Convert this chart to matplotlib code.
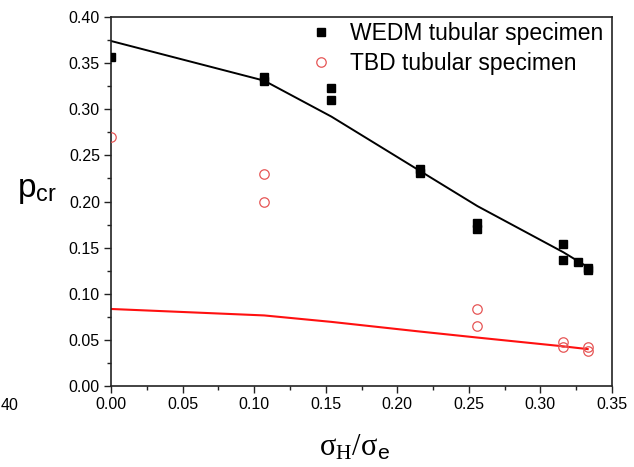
import matplotlib
matplotlib.use("Agg")
import matplotlib.pyplot as plt
from matplotlib.ticker import MultipleLocator

plt.rcParams['font.family'] = ['Liberation Sans', 'DejaVu Sans']
plt.rcParams['mathtext.fontset'] = 'custom'
plt.rcParams['mathtext.rm'] = 'Liberation Serif'
plt.rcParams['mathtext.it'] = 'Liberation Serif:italic'
plt.rcParams['mathtext.sf'] = 'Liberation Sans'

# Experimental critical pressure, WEDM tubular specimens
wedm_x = [0.0, 0.107, 0.107, 0.154, 0.154, 0.216, 0.216, 0.256, 0.256,
          0.316, 0.316, 0.326, 0.333, 0.333]
wedm_y = [0.357, 0.331, 0.335, 0.323, 0.310, 0.231, 0.235, 0.170, 0.177,
          0.154, 0.137, 0.134, 0.126, 0.128]

# Experimental critical pressure, TBD tubular specimens
tbd_x = [0.0, 0.107, 0.107, 0.256, 0.256, 0.316, 0.316, 0.333, 0.333]
tbd_y = [0.270, 0.230, 0.200, 0.083, 0.0655, 0.048, 0.0425, 0.042, 0.038]

# Predicted curves
fit_x = [0.0, 0.107, 0.154, 0.216, 0.256, 0.316, 0.333]
wedm_fit = [0.374, 0.331, 0.292, 0.233, 0.195, 0.145, 0.129]
tbd_fit = [0.0835, 0.0765, 0.0695, 0.059, 0.0525, 0.043, 0.040]

fig = plt.figure(figsize=(6.34, 4.67), dpi=100)
ax = fig.add_axes([111/634, 1 - 386/467, (612 - 111)/634, (386 - 17)/467])

ax.plot(fit_x, wedm_fit, color='black', lw=1.4, zorder=2)
ax.plot(fit_x, tbd_fit, color='#ff1010', lw=1.5, zorder=2)
sq, = ax.plot(wedm_x, wedm_y, ls='none', marker='s', ms=5.2, color='black',
              mec='black', label='WEDM tubular specimen', zorder=3)
circ, = ax.plot(tbd_x, tbd_y, ls='none', marker='o', ms=6.8, mfc='none',
                mec='#e65656', mew=0.9, label='TBD tubular specimen', zorder=3)
# clip the point markers exactly at the frame
sq.set_clip_path(ax.patch)
circ.set_clip_path(ax.patch)

ax.set_xlim(0, 0.35)
ax.set_ylim(0, 0.40)
ax.xaxis.set_major_locator(MultipleLocator(0.05))
ax.xaxis.set_minor_locator(MultipleLocator(0.025))
ax.yaxis.set_major_locator(MultipleLocator(0.05))
ax.yaxis.set_minor_locator(MultipleLocator(0.025))
ax.xaxis.set_major_formatter(plt.FormatStrFormatter('%.2f'))
ax.yaxis.set_major_formatter(plt.FormatStrFormatter('%.2f'))
ax.tick_params(which='both', direction='out', top=False, right=False,
               labelsize=11.5, width=1.0, color='#222222')
ax.tick_params(which='major', length=5, pad=3)
ax.tick_params(which='minor', length=3)
for s in ax.spines.values():
    s.set_linewidth(1.2)
    s.set_color('#222222')

leg = ax.legend(loc='upper right', frameon=False, fontsize=16.5,
                handlelength=1.0, handletextpad=0.75, borderaxespad=0.0,
                labelspacing=0.3, bbox_to_anchor=(1.0, 1.01))

fig.text(17/634, 1 - 190/467, r'$\mathsf{p}_{\mathsf{cr}}$', fontsize=24,
         ha='left', va='center')
fig.text(354/634, 1 - 447/467,
         r'$\mathrm{\sigma}_{\mathrm{H}}/\mathrm{\sigma}_{\mathsf{e}}$',
         fontsize=22, ha='center', va='center')
fig.text(0.5/634, 1 - 406/467, '40', fontsize=11.5, ha='left', va='center')

fig.savefig('out.png', dpi=100)
